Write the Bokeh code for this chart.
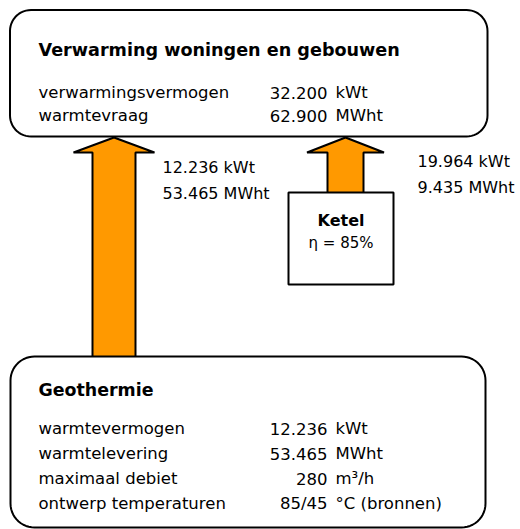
import numpy as np
from bokeh.plotting import figure
from bokeh.models import Range1d
from bokeh.core.properties import value
from bokeh.embed import file_html
from bokeh.resources import INLINE

# ---- content ----
top_title = "Verwarming woningen en gebouwen"
top_labels = ["verwarmingsvermogen", "warmtevraag"]
top_values = ["32.200", "62.900"]
top_units = ["kWt", "MWht"]

geo_title = "Geothermie"
geo_labels = ["warmtevermogen", "warmtelevering", "maximaal debiet", "ontwerp temperaturen"]
geo_values = ["12.236", "53.465", "280", "85/45"]
geo_units = ["kWt", "MWht", "m³/h", "°C (bronnen)"]

ketel_title = "Ketel"
ketel_eff = "η = 85%"

geo_flow = ["12.236 kWt", "53.465 MWht"]
ketel_flow = ["19.964 kWt", "9.435 MWht"]

# ---- layout (pixel-like coordinates, y downwards) ----
FONT = value("DejaVu Sans")
ORANGE = "#FF9900"

p = figure(width=520, height=529, x_range=Range1d(0, 520), y_range=Range1d(529, 0),
           output_backend="svg", toolbar_location=None, min_border=0,
           background_fill_color="white", border_fill_color="white")
p.axis.visible = False
p.xgrid.visible = False
p.ygrid.visible = False
p.outline_line_color = None


def rounded_rect(x0, y0, x1, y1, r, n=14):
    xs, ys = [], []
    corners = [(x1 - r, y0 + r, -90, 0), (x1 - r, y1 - r, 0, 90),
               (x0 + r, y1 - r, 90, 180), (x0 + r, y0 + r, 180, 270)]
    for cx, cy, a0, a1 in corners:
        t = np.radians(np.linspace(a0, a1, n))
        xs.extend(cx + r * np.cos(t))
        ys.extend(cy + r * np.sin(t))
    return xs, ys


def up_arrow(xc, tip, base, head_half, shaft_half, bottom):
    xs = [xc, xc + head_half, xc + shaft_half, xc + shaft_half,
          xc - shaft_half, xc - shaft_half, xc - head_half]
    ys = [tip, base, base, bottom, bottom, base, base]
    return xs, ys


# arrows
ax, ay = up_arrow(113.5, 137, 152, 40.5, 21.5, 358)
p.patch(ax, ay, fill_color=ORANGE, line_color="black", line_width=2)
ax, ay = up_arrow(345, 137, 152, 38.5, 18, 194)
p.patch(ax, ay, fill_color=ORANGE, line_color="black", line_width=2)

# boxes
bx, by = rounded_rect(9.5, 9.5, 487, 136, 21)
p.patch(bx, by, fill_color="white", line_color="black", line_width=2)
bx, by = rounded_rect(10, 356, 485, 527, 24)
p.patch(bx, by, fill_color="white", line_color="black", line_width=2)
p.patch([288, 393, 393, 288], [192, 192, 284, 284], fill_color="white",
        line_color="black", line_width=2)


def txt(x, y, t, size="16.5px", bold=False, align="left"):
    p.text(x=x, y=y, text=t, text_font=FONT, text_font_size=value(size),
           text_font_style="bold" if bold else "normal", text_align=align,
           text_baseline="alphabetic", text_color="black")


# top box
txt([38], [49], [top_title], size="17.6px", bold=True)
top_y = [92, 115]
txt([38] * len(top_labels), top_y, top_labels)
txt([327] * len(top_values), top_y, top_values, align="right")
txt([335] * len(top_units), top_y, top_units)

# geothermie box
txt([38], [389], [geo_title], size="17.4px", bold=True)
geo_y = [428, 453, 478, 503]
txt([38] * len(geo_labels), geo_y, geo_labels)
txt([327] * len(geo_values), geo_y, geo_values, align="right")
txt([335] * len(geo_units), geo_y, geo_units)

# ketel box
txt([340.5], [220], [ketel_title], size="16px", bold=True, align="center")
txt([340.5], [242], [ketel_eff], size="15px", align="center")

# flow labels
txt([162, 162], [167, 193], geo_flow, size="16px")
txt([417, 417], [161, 187], ketel_flow, size="16px")

open("out.html", "w").write(file_html(p, INLINE))
